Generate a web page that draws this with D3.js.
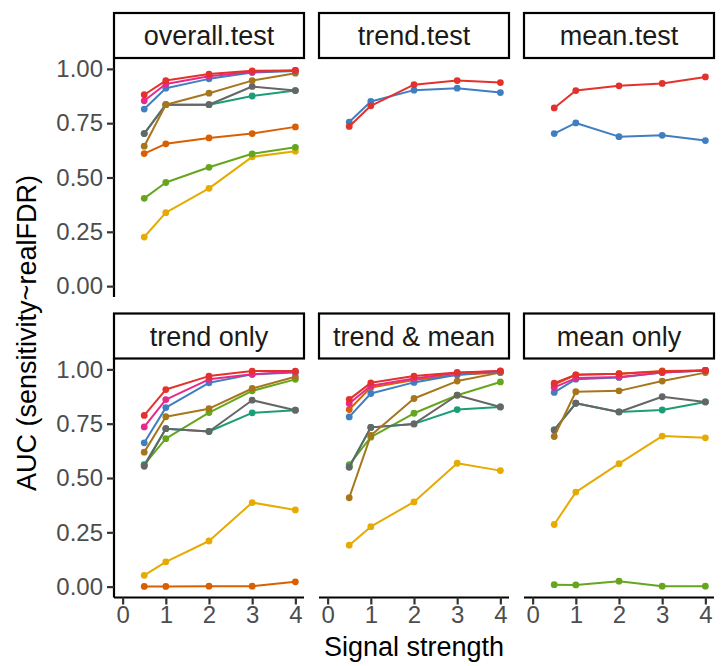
<!DOCTYPE html>
<html>
<head>
<meta charset="utf-8">
<script src="https://cdn.jsdelivr.net/npm/d3@7"></script>
<style>
  html, body { margin: 0; padding: 0; background: #fff; }
  svg { display: block; font-family: "Liberation Sans", Arial, Helvetica, sans-serif; }
</style>
</head>
<body>
<svg id="chart" width="723" height="666"></svg>
<script>
// ---------------- data ----------------
const signal = [0.5, 1, 2, 3, 4];
const xTicks = [0, 1, 2, 3, 4];
const yTicks = [0, 0.25, 0.5, 0.75, 1];
const yTickLabels = ["0.00", "0.25", "0.50", "0.75", "1.00"];
const panelNames = ["overall.test", "trend.test", "mean.test", "trend only", "trend & mean", "mean only"];
// methods, in drawing order (first = bottom)
const methods = ["M_yellow", "M_green", "M_orange", "M_teal", "M_gray", "M_brown", "M_blue", "M_pink", "M_red"];
const methodColors = ["#E6AB02", "#66A61E", "#D95F02", "#1B9E77", "#666666", "#A6761D", "#3F7FC1", "#E7298A", "#E2322B"];

// AUC values per panel, per method (absent = method not present in that panel)
const overallTest = {
  M_yellow: [0.226, 0.338, 0.450, 0.595, 0.621],
  M_green:  [0.404, 0.477, 0.547, 0.609, 0.639],
  M_orange: [0.610, 0.655, 0.682, 0.702, 0.733],
  M_teal:   [0.702, 0.835, 0.835, 0.875, 0.900],
  M_gray:   [0.702, 0.835, 0.835, 0.919, 0.900],
  M_brown:  [0.644, 0.835, 0.888, 0.946, 0.980],
  M_blue:   [0.815, 0.911, 0.954, 0.983, 0.990],
  M_pink:   [0.853, 0.930, 0.966, 0.987, 0.993],
  M_red:    [0.881, 0.946, 0.976, 0.991, 0.993]
};
const trendTest = {
  M_blue: [0.755, 0.850, 0.902, 0.911, 0.891],
  M_red:  [0.735, 0.830, 0.927, 0.946, 0.937]
};
const meanTest = {
  M_blue: [0.702, 0.751, 0.688, 0.694, 0.670],
  M_red:  [0.820, 0.900, 0.922, 0.933, 0.963]
};
const trendOnly = {
  M_yellow: [0.052, 0.114, 0.210, 0.387, 0.353],
  M_green:  [0.562, 0.681, 0.801, 0.901, 0.954],
  M_orange: [0.001, 0.001, 0.002, 0.002, 0.022],
  M_teal:   [0.560, 0.727, 0.714, 0.800, 0.812],
  M_gray:   [0.554, 0.727, 0.714, 0.858, 0.812],
  M_brown:  [0.619, 0.782, 0.819, 0.912, 0.966],
  M_blue:   [0.662, 0.824, 0.938, 0.977, 0.986],
  M_pink:   [0.735, 0.861, 0.954, 0.977, 0.990],
  M_red:    [0.788, 0.907, 0.969, 0.992, 0.992]
};
const trendMean = {
  M_yellow: [0.191, 0.276, 0.390, 0.568, 0.534],
  M_green:  [0.562, 0.688, 0.798, 0.881, 0.942],
  M_orange: [0.815, 0.917, 0.951, 0.975, 0.985],
  M_teal:   [0.552, 0.733, 0.749, 0.815, 0.827],
  M_gray:   [0.549, 0.733, 0.749, 0.881, 0.827],
  M_brown:  [0.409, 0.696, 0.866, 0.946, 0.985],
  M_blue:   [0.781, 0.889, 0.940, 0.975, 0.990],
  M_pink:   [0.843, 0.925, 0.958, 0.983, 0.993],
  M_red:    [0.862, 0.938, 0.969, 0.986, 0.992]
};
const meanOnly = {
  M_yellow: [0.286, 0.435, 0.566, 0.693, 0.685],
  M_green:  [0.009, 0.008, 0.025, 0.002, 0.002],
  M_orange: [0.930, 0.975, 0.980, 0.993, 0.995],
  M_teal:   [0.721, 0.844, 0.804, 0.813, 0.850],
  M_gray:   [0.721, 0.844, 0.804, 0.874, 0.850],
  M_brown:  [0.691, 0.897, 0.901, 0.946, 0.985],
  M_blue:   [0.894, 0.955, 0.963, 0.985, 0.995],
  M_pink:   [0.917, 0.960, 0.965, 0.985, 0.995],
  M_red:    [0.936, 0.975, 0.980, 0.990, 0.995]
};
const panelData = [overallTest, trendTest, meanTest, trendOnly, trendMean, meanOnly];

// ---------------- layout ----------------
const svg = d3.select("#chart");
const panelW = 190, panelH = 239, stripH = 45, colGap = 15;
const left0 = 114;
const rowTop = [13, 313.5];
const colX = [0, 1, 2].map(i => left0 + i * (panelW + colGap));

const x = d3.scaleLinear().domain([-0.2, 4.2]).range([0, panelW]);
const y = d3.scaleLinear().domain([-0.05, 1.05]).range([panelH, 0]);
const color = d3.scaleOrdinal().domain(methods).range(methodColors);
const line = d3.line().x((d, i) => x(signal[i])).y(d => y(d));

const tickColor = "#4D4D4D";
const tickFont = 24, stripFont = 27, titleFont = 27;

panelNames.forEach((name, p) => {
  const r = Math.floor(p / 3), c = p % 3;
  const px = colX[c], sy = rowTop[r], py = sy + stripH;

  // strip
  const strip = svg.append("g").attr("transform", `translate(${px},${sy})`);
  strip.append("rect").attr("x", 0).attr("y", 0).attr("width", panelW).attr("height", stripH)
    .attr("fill", "#fff").attr("stroke", "#000").attr("stroke-width", 2.2);
  strip.append("text").attr("x", panelW / 2).attr("y", stripH / 2).attr("dy", "0.36em")
    .attr("text-anchor", "middle").attr("font-size", stripFont).attr("fill", "#1A1A1A").text(name);

  const g = svg.append("g").attr("transform", `translate(${px},${py})`);

  // y axis (first column only)
  if (c === 0) {
    const ya = g.append("g").call(d3.axisLeft(y).tickValues(yTicks)
      .tickFormat((d, i) => yTickLabels[i]).tickSize(7).tickPadding(4));
    ya.select(".domain").attr("stroke", "#000").attr("stroke-width", 2.2)
      .attr("d", `M0,0V${panelH}`);
    ya.selectAll(".tick line").attr("stroke", "#333").attr("stroke-width", 2.2);
    ya.selectAll(".tick text").attr("font-size", tickFont).attr("fill", tickColor)
      .attr("font-family", "Liberation Sans, Arial, sans-serif");
  }
  // x axis (bottom row only)
  if (r === 1) {
    const xa = g.append("g").attr("transform", `translate(0,${panelH})`)
      .call(d3.axisBottom(x).tickValues(xTicks).tickFormat(d3.format("d")).tickSize(7).tickPadding(1));
    xa.select(".domain").attr("stroke", "#000").attr("stroke-width", 2.2)
      .attr("d", `M0,0H${panelW}`);
    xa.selectAll(".tick line").attr("stroke", "#333").attr("stroke-width", 2.2);
    xa.selectAll(".tick text").attr("font-size", tickFont).attr("fill", tickColor)
      .attr("font-family", "Liberation Sans, Arial, sans-serif");
  }

  const data = panelData[p];
  methods.forEach(m => {
    const vals = data[m];
    if (!vals) return;
    g.append("path").datum(vals).attr("d", line).attr("fill", "none")
      .attr("stroke", color(m)).attr("stroke-width", 2).attr("stroke-linejoin", "round");
    g.selectAll(null).data(vals).enter().append("circle")
      .attr("cx", (d, i) => x(signal[i])).attr("cy", d => y(d)).attr("r", 3.4)
      .attr("fill", color(m));
  });
});

// axis titles
svg.append("text").attr("x", left0 + (3 * panelW + 2 * colGap) / 2).attr("y", 656)
  .attr("text-anchor", "middle").attr("font-size", titleFont).attr("fill", "#000").text("Signal strength");
svg.append("text").attr("transform", `translate(27,333) rotate(-90)`)
  .attr("dy", "0.35em").attr("text-anchor", "middle").attr("font-size", titleFont).attr("fill", "#000")
  .text("AUC (sensitivity~realFDR)");
</script>
</body>
</html>
